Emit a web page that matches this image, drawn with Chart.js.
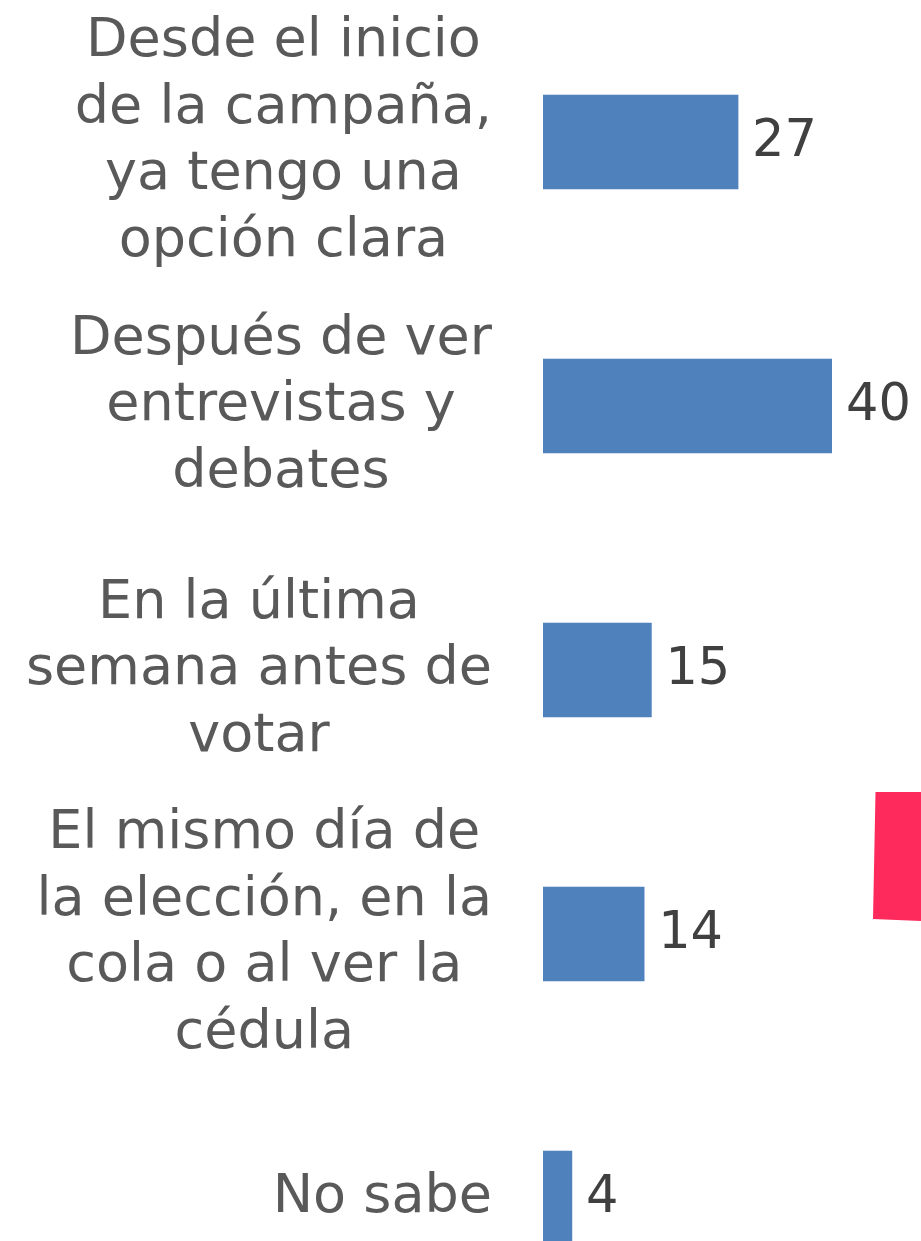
<!DOCTYPE html>
<html>
<head>
<meta charset="utf-8">
<script src="https://cdn.jsdelivr.net/npm/chart.js@4.4.1/dist/chart.umd.min.js"></script>
<style>
  html, body { margin: 0; padding: 0; background: #ffffff; overflow: hidden; width: 921px; height: 1241px; }
  #wrap { position: absolute; left: 0; top: 0; width: 921px; height: 1330px; }
  #deco { position: absolute; left: 873px; top: 792px; width: 48px; height: 129px; background: #FF2A5C;
          clip-path: polygon(2.5px 0, 48px 0, 48px 129px, 0 127px); }
</style>
</head>
<body>
<div id="wrap"><canvas id="c" width="921" height="1330"></canvas></div>
<div id="deco"></div>
<script>
const categories = [
  ["Desde el inicio", "de la campaña,", "ya tengo una", "opción clara"],
  ["Después de ver", "entrevistas y", "debates"],
  ["En la última", "semana antes de", "votar"],
  ["El mismo día de", "la elección, en la", "cola o al ver la", "cédula"],
  ["No sabe"]
];
const values = [27, 40, 15, 14, 4];

const FONT = '"DejaVu Sans", sans-serif';
const LABEL_SIZE = 54;
const VALUE_SIZE = 51;
const LINE_H = 66.5;

const labelPlugin = {
  id: 'customLabels',
  afterDraw(chart) {
    const ctx = chart.ctx;
    const yScale = chart.scales.y;
    const meta = chart.getDatasetMeta(0);
    ctx.save();
    // category labels: each block centered on its own widest line, right edge fixed
    ctx.font = LABEL_SIZE + 'px ' + FONT;
    ctx.fillStyle = '#595959';
    ctx.textAlign = 'center';
    ctx.textBaseline = 'middle';
    const rightEdge = chart.chartArea.left - 51;
    categories.forEach((lines, i) => {
      const yc = yScale.getPixelForValue(i);
      const widest = Math.max(...lines.map(l => ctx.measureText(l).width));
      const xc = rightEdge - widest / 2;
      const top = yc - (lines.length - 1) * LINE_H / 2;
      lines.forEach((l, j) => ctx.fillText(l, xc, top + j * LINE_H));
    });
    // value labels
    ctx.font = VALUE_SIZE + 'px ' + FONT;
    ctx.fillStyle = '#404040';
    ctx.textAlign = 'left';
    meta.data.forEach((bar, i) => {
      ctx.fillText(String(values[i]), bar.x + 14, bar.y + 1);
    });
    ctx.restore();
  }
};

new Chart(document.getElementById('c'), {
  type: 'bar',
  data: {
    labels: categories,
    datasets: [{
      data: values,
      backgroundColor: '#4F81BD',
      borderWidth: 0,
      barThickness: 94
    }]
  },
  options: {
    indexAxis: 'y',
    responsive: false,
    animation: false,
    layout: { padding: { left: 543, right: 89, top: 10, bottom: 0 } },
    plugins: { legend: { display: false }, tooltip: { enabled: false } },
    scales: {
      x: { display: false, min: 0, max: 40 },
      y: { display: false }
    }
  },
  plugins: [labelPlugin]
});
</script>
</body>
</html>
